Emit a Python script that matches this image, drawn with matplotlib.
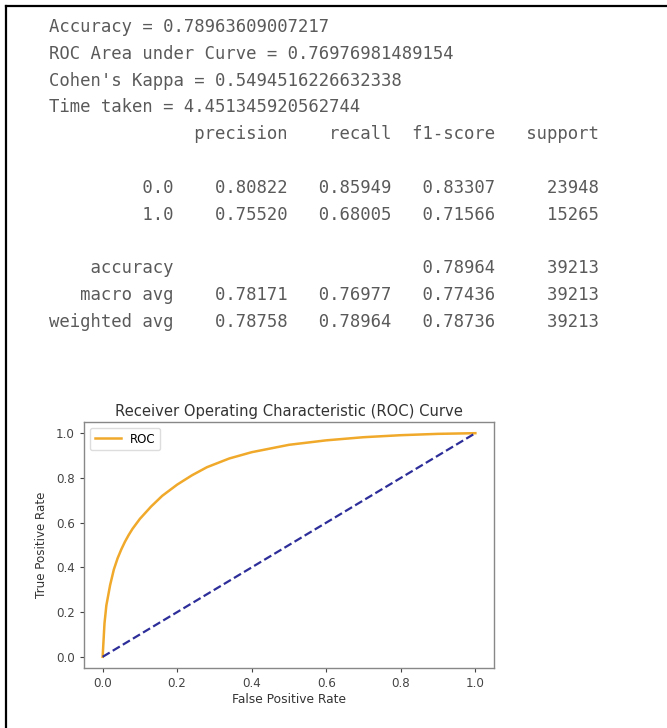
import matplotlib
matplotlib.use("Agg")
import matplotlib.pyplot as plt
from matplotlib.lines import Line2D

# Summary metrics printed above the report
accuracy = 0.78963609007217
roc_auc = 0.76976981489154
kappa = 0.5494516226632338
time_taken = 4.451345920562744

# Classification report values
class_labels = ["0.0", "1.0"]
precision = [0.80822, 0.75520]
recall = [0.85949, 0.68005]
f1_score = [0.83307, 0.71566]
support = [23948, 15265]
avg_labels = ["macro avg", "weighted avg"]
avg_precision = [0.78171, 0.78758]
avg_recall = [0.76977, 0.78964]
avg_f1 = [0.77436, 0.78736]
total_support = 39213

# ROC curve points
fpr = [0.0, 0.005, 0.01, 0.02, 0.03, 0.04, 0.05, 0.06, 0.07, 0.08,
       0.10, 0.13, 0.16, 0.20, 0.24, 0.28, 0.34, 0.40, 0.50, 0.60,
       0.70, 0.80, 0.90, 1.0]
tpr = [0.0, 0.15, 0.23, 0.32, 0.39, 0.44, 0.48, 0.515, 0.545, 0.572,
       0.617, 0.672, 0.72, 0.77, 0.812, 0.848, 0.887, 0.915, 0.948, 0.968,
       0.982, 0.991, 0.997, 1.0]
x_ticks = [0.0, 0.2, 0.4, 0.6, 0.8, 1.0]
y_ticks = [0.0, 0.2, 0.4, 0.6, 0.8, 1.0]

W, H = 667, 728
fig = plt.figure(figsize=(W / 100, H / 100), dpi=100)
fig.patch.set_facecolor("white")

# Frame lines along the top and left edges
fig.add_artist(Line2D([6 / W, 1.0], [1 - 6 / H, 1 - 6 / H], color="black", lw=1.6))
fig.add_artist(Line2D([6 / W, 6 / W], [0.0, 1 - 6 / H], color="black", lw=1.6))

# Build the text output lines
width = 12
lines = [
    f"Accuracy = {accuracy}",
    f"ROC Area under Curve = {roc_auc}",
    f"Cohen's Kappa = {kappa}",
    f"Time taken = {time_taken}",
]
headers = ["precision", "recall", "f1-score", "support"]
lines.append(("{:>{width}s} " + " {:>9}" * 4).format("", *headers, width=width))
lines.append("")
row_fmt = "{:>{width}s} " + " {:>9.5f}" * 3 + " {:>9}"
for lab, p, r, f, s in zip(class_labels, precision, recall, f1_score, support):
    lines.append(row_fmt.format(lab, p, r, f, s, width=width))
lines.append("")
acc_fmt = "{:>{width}s} " + " {:>9}" * 2 + " {:>9.5f}" + " {:>9}"
lines.append(acc_fmt.format("accuracy", "", "", accuracy, total_support, width=width))
for lab, p, r, f in zip(avg_labels, avg_precision, avg_recall, avg_f1):
    lines.append(row_fmt.format(lab, p, r, f, total_support, width=width))

y0, dy = 27, 26.8
for i, line in enumerate(lines):
    if not line:
        continue
    fig.text(49 / W, 1 - (y0 + dy * i) / H, line, family="DejaVu Sans Mono",
             fontsize=12.4, color="#5a5a5a", ha="left", va="center")

# ROC plot
ax = fig.add_axes([84 / W, (H - 668) / H, 410 / W, 246 / H])
ax.plot(fpr, tpr, color="#f0a92a", lw=1.8, label="ROC")
ax.plot([0, 1], [0, 1], color="#2e2e9a", lw=1.6, ls="--")
ax.set_xticks(x_ticks)
ax.set_yticks(y_ticks)
ax.set_xlim(-0.05, 1.05)
ax.set_ylim(-0.05, 1.05)
ax.set_title("Receiver Operating Characteristic (ROC) Curve", fontsize=10.6,
             color="#333333", pad=4)
ax.set_xlabel("False Positive Rate", fontsize=8.8, color="#333333", labelpad=2)
ax.set_ylabel("True Positive Rate", fontsize=8.6, color="#333333", labelpad=6)
ax.tick_params(labelsize=8.6, colors="#444444", length=3, width=0.8)
for sp in ax.spines.values():
    sp.set_color("#888888")
    sp.set_linewidth(1.0)
ax.legend(loc="upper left", fontsize=8.5, handlelength=2.2, framealpha=1,
          edgecolor="#dddddd")

fig.savefig("out.png", dpi=100, facecolor="white")
